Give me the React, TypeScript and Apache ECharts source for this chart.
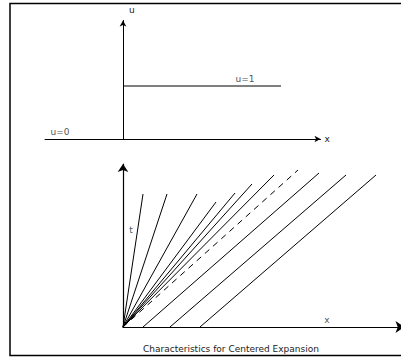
import React, { useEffect, useRef } from "react";
import * as echarts from "echarts";

// Upper panel: initial data u(x,0)
const uStepX = [0, 15.8];
const uStepValue = [1, 1];

// Lower panel: characteristics (x end, t end) of the fan from the origin
const fanEndX = [2.0, 4.4, 7.4, 9.3, 11.2, 12.9, 15.1];
const fanEndT = [13.3, 13.3, 13.3, 12.5, 13.4, 14.3, 15.2];
// Edge of the fan (dashed)
const edgeEndX = 17.5;
const edgeEndT = 15.7;
// Parallel characteristics to the right of the fan
const parallelStartX = [2.0, 4.7, 7.7];
const parallelEndX = [19.6, 22.3, 25.3];
const parallelEndT = [15.4, 15.2, 15.2];

// Text labels
const labelU0 = { text: "u=0", x: -6.3, y: 0 };
const labelU1 = { text: "u=1", x: 12.2, y: 1 };
const labelT = { text: "t", x: 0.8, y: 9.7 };
const labelX = { text: "x", x: 20.4, y: 0.7 };
const titleText = "Characteristics for Centered Expansion";

const FONT = "DejaVu Sans";
const TXT = "#222";

export default function App() {
  const ref = useRef<HTMLDivElement>(null);
  useEffect(() => {
    if (!ref.current) return;
    const chart = echarts.init(ref.current, null, { renderer: "svg" });
    const lineBase = {
      type: "line",
      symbol: "none",
      silent: true,
      lineStyle: { color: "#000", width: 1 },
    };
    const series: any[] = [];
    series.push({
      ...lineBase,
      xAxisIndex: 0,
      yAxisIndex: 0,
      data: uStepX.map((x, i) => [x, uStepValue[i]]),
    });
    fanEndX.forEach((x, i) => {
      series.push({
        ...lineBase,
        xAxisIndex: 1,
        yAxisIndex: 1,
        data: [
          [0, 0],
          [x, fanEndT[i]],
        ],
      });
    });
    series.push({
      ...lineBase,
      xAxisIndex: 1,
      yAxisIndex: 1,
      lineStyle: { color: "#000", width: 1, type: [6, 5] },
      data: [
        [0, 0],
        [edgeEndX, edgeEndT],
      ],
    });
    parallelStartX.forEach((x, i) => {
      series.push({
        ...lineBase,
        xAxisIndex: 1,
        yAxisIndex: 1,
        data: [
          [x, 0],
          [parallelEndX[i], parallelEndT[i]],
        ],
      });
    });
    const labelSeries = (items: any[], xi: number, pos: string) => ({
      type: "scatter",
      xAxisIndex: xi,
      yAxisIndex: xi,
      symbolSize: 0,
      silent: true,
      label: {
        show: true,
        position: pos,
        distance: 3,
        formatter: (p: any) => p.data.name,
        fontFamily: FONT,
        fontSize: 9,
        color: TXT,
      },
      data: items.map((l) => ({ name: l.text, value: [l.x, l.y] })),
    });
    series.push(labelSeries([labelU0, labelU1], 0, "top"));
    series.push(labelSeries([labelT, labelX], 1, "inside"));

    const hiddenAxisParts = {
      axisTick: { show: false },
      axisLabel: { show: false },
      splitLine: { show: false },
    };

    chart.setOption({
      animation: false,
      textStyle: { fontFamily: FONT },
      title: {
        text: titleText,
        left: 138,
        top: 339,
        textStyle: { fontFamily: FONT, fontSize: 9, fontWeight: "normal", color: TXT },
      },
      graphic: [
        {
          type: "rect",
          shape: { x: 10, y: 3.5, width: 430, height: 352 },
          style: { fill: "none", stroke: "#000", lineWidth: 1.5 },
          silent: true,
        },
      ],
      grid: [
        { left: 45, top: 20.5, width: 275.5, height: 118.5, outerBoundsMode: "none" },
        { left: 123, top: 164, width: 281.5, height: 163, outerBoundsMode: "none" },
      ],
      xAxis: [
        {
          type: "value",
          gridIndex: 0,
          min: -7.8,
          max: 19.75,
          name: "x",
          nameLocation: "end",
          nameGap: 4,
          nameTextStyle: { fontFamily: FONT, fontSize: 9, color: TXT, padding: [0, 0, 13, 0] },
          axisLine: {
            show: true,
            onZero: true,
            symbol: ["none", "arrow"],
            symbolSize: [5, 6],
            lineStyle: { color: "#000", width: 1 },
          },
          ...hiddenAxisParts,
        },
        {
          type: "value",
          gridIndex: 1,
          min: 0,
          max: 28.15,
          axisLine: {
            show: true,
            symbol: ["none", "arrow"],
            symbolSize: [9, 9],
            lineStyle: { color: "#000", width: 1.2 },
          },
          ...hiddenAxisParts,
        },
      ],
      yAxis: [
        {
          type: "value",
          gridIndex: 0,
          min: 0,
          max: 2.236,
          name: "u",
          nameLocation: "end",
          nameGap: 6,
          nameTextStyle: { fontFamily: FONT, fontSize: 9, color: TXT, align: "left", padding: [0, 0, 0, 6] },
          axisLine: {
            show: true,
            onZero: true,
            symbol: ["none", "arrow"],
            symbolSize: [5, 6],
            lineStyle: { color: "#000", width: 1 },
          },
          ...hiddenAxisParts,
        },
        {
          type: "value",
          gridIndex: 1,
          min: 0,
          max: 16.3,
          axisLine: {
            show: true,
            symbol: ["none", "arrow"],
            symbolSize: [8, 8],
            lineStyle: { color: "#000", width: 1.2 },
          },
          ...hiddenAxisParts,
        },
      ],
      series,
    });
    return () => chart.dispose();
  }, []);
  return (
    <div
      ref={ref}
      style={{ position: "absolute", left: 0, top: 0, width: 401, height: 358, background: "#fff" }}
    />
  );
}
